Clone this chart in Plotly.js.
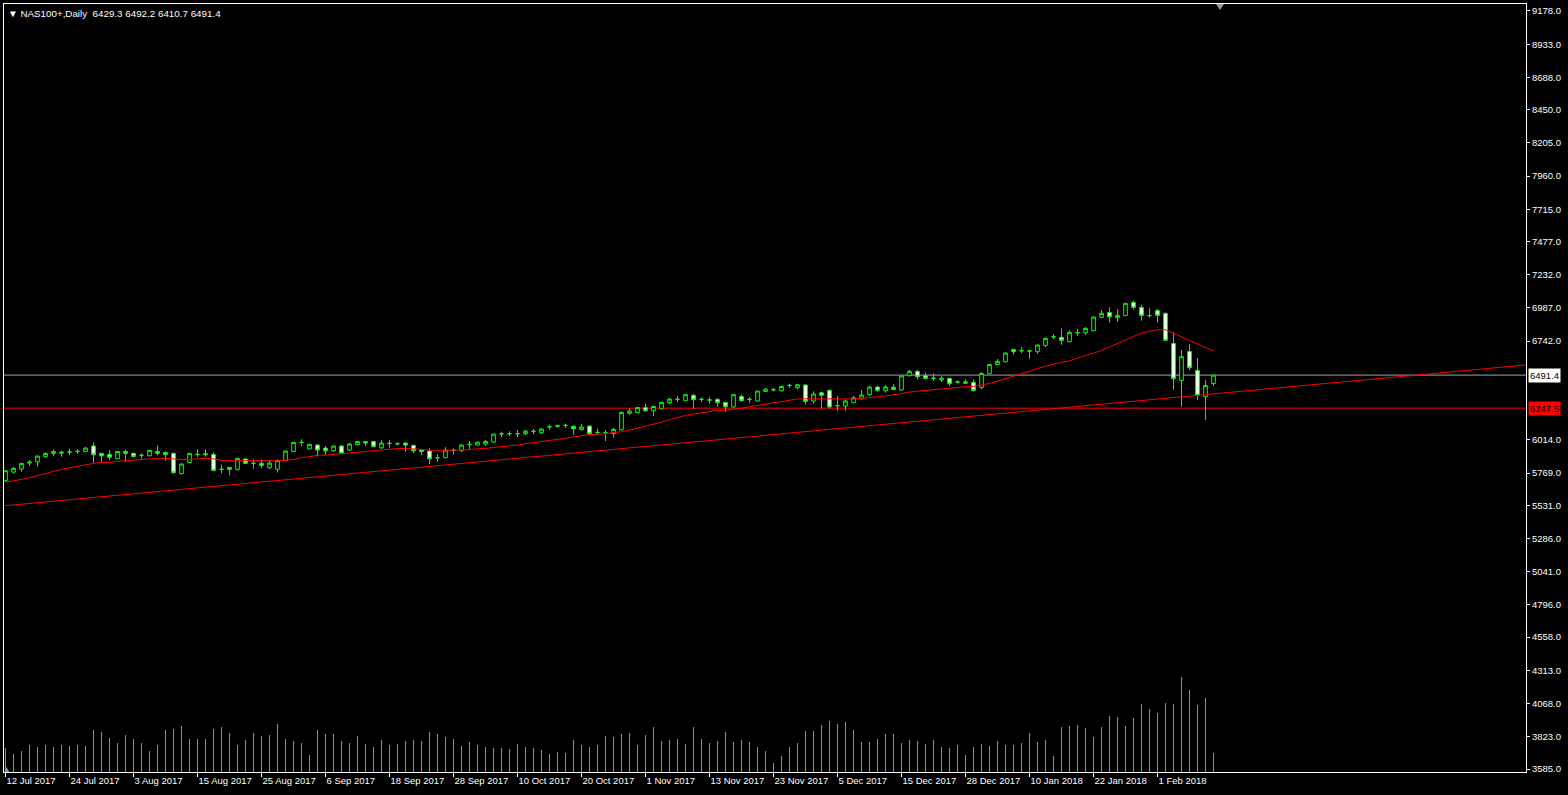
<!DOCTYPE html>
<html>
<head>
<meta charset="utf-8">
<script src="https://cdn.plot.ly/plotly-3.0.1.min.js"></script>
<style>
html,body{margin:0;padding:0;background:#000;}
#chart{width:1568px;height:795px;}
</style>
</head>
<body>
<div id="chart"></div>
<script>
// ---------- DATA ----------
const symbolName = "NAS100+,Daily";
const open  = [5712,5776,5798,5842,5852,5889,5914,5915,5922,5927,5928,5968,5914,5906,5874,5928,5914,5898,5896,5928,
5921,5914,5764,5847,5905,5904,5906,5795,5810,5796,5872,5838,5840,5808,5796,5862,5928,5994,5946,5975,
5953,5933,5968,5938,5978,6002,6002,5955,5986,5984,5990,5973,5938,5931,5880,5882,5935,5933,5978,5975,
5983,5997,6057,6058,6058,6059,6075,6066,6109,6113,6119,6113,6088,6115,6067,6066,6061,6088,6209,6214,
6251,6228,6243,6288,6311,6302,6342,6311,6307,6312,6290,6256,6334,6311,6300,6371,6382,6376,6414,6398,
6418,6300,6361,6379,6265,6263,6288,6317,6347,6403,6376,6402,6382,6487,6519,6487,6467,6456,6467,6440,
6430,6438,6401,6502,6570,6590,6681,6670,6668,6664,6711,6773,6770,6738,6803,6804,6819,6917,6954,6915,
6930,7028,6991,6929,6969,6947,6725,6452,6666,6526,6332,6429.3];
const high  = [5790,5815,5844,5864,5897,5921,5943,5933,5950,5945,5960,5995,5916,5938,5930,5943,5918,5914,5938,5973,
5928,5921,5842,5916,5943,5943,5921,5832,5813,5879,5876,5869,5869,5864,5869,5933,5997,6017,5985,5982,
5968,5970,5972,5992,6005,6005,6005,6012,6012,5997,5997,5978,5941,5951,5906,5960,5951,5983,6005,5999,
6012,6060,6074,6076,6086,6088,6093,6101,6125,6125,6133,6120,6133,6120,6096,6086,6101,6224,6246,6256,
6283,6263,6297,6322,6337,6349,6352,6327,6329,6322,6293,6349,6347,6329,6374,6396,6396,6415,6428,6428,
6425,6371,6366,6383,6337,6312,6337,6381,6411,6411,6418,6424,6488,6529,6529,6509,6504,6484,6470,6450,
6460,6460,6511,6573,6610,6658,6684,6698,6674,6718,6770,6792,6836,6821,6831,6846,6922,6971,6991,6979,
7024,7040,7008,6984,6979,6954,6807,6676,6721,6617,6455,6492.2];
const low   = [5705,5766,5778,5823,5815,5884,5894,5889,5901,5909,5926,5845,5852,5864,5872,5850,5884,5874,5894,5899,
5860,5764,5759,5845,5886,5889,5781,5766,5751,5788,5838,5800,5805,5798,5773,5860,5926,5970,5944,5891,
5901,5928,5910,5933,5975,5968,5960,5948,5955,5973,5926,5914,5901,5835,5852,5879,5906,5926,5946,5973,
5970,5995,6032,6042,6032,6049,6054,6056,6088,6103,6101,6049,6086,6054,6054,6005,6030,6083,6199,6211,
6224,6189,6238,6278,6292,6300,6243,6295,6280,6258,6221,6253,6297,6288,6297,6366,6371,6371,6396,6386,
6275,6280,6243,6243,6228,6228,6285,6312,6339,6371,6362,6381,6378,6482,6460,6460,6451,6440,6410,6428,
6425,6369,6386,6500,6566,6587,6644,6654,6612,6649,6696,6757,6715,6733,6782,6787,6816,6912,6878,6885,
6927,6976,6893,6915,6880,6743,6384,6258,6529,6307,6160,6410.7];
const close = [5786,5803,5840,5849,5894,5914,5928,5923,5924,5929,5953,5904,5896,5884,5928,5914,5891,5900,5936,5914,
5906,5771,5835,5914,5907,5912,5788,5797,5796,5877,5840,5841,5825,5842,5862,5931,5995,5996,5980,5938,
5933,5968,5914,5983,6002,5990,5963,5990,5988,5985,5975,5933,5928,5874,5882,5938,5937,5975,5980,5997,
6002,6056,6059,6060,6060,6078,6077,6093,6111,6120,6121,6096,6108,6059,6069,6067,6091,6216,6226,6252,
6228,6260,6290,6315,6313,6347,6310,6313,6308,6288,6258,6347,6302,6313,6374,6388,6384,6408,6416,6420,
6297,6352,6342,6256,6266,6300,6324,6344,6403,6379,6404,6386,6486,6519,6479,6467,6469,6468,6428,6442,
6442,6378,6504,6570,6593,6654,6664,6672,6670,6713,6762,6775,6747,6807,6805,6836,6920,6947,6922,6932,
7021,6991,6932,6931,6932,6748,6465,6627,6546,6342,6415,6491.4];
const movingAvg = [5700,5709,5722,5734,5751,5764,5781,5796,5808,5820,5832,5840,5847,5847,5855,5860,5862,5867,5872,5877,
5877,5872,5869,5869,5874,5877,5874,5862,5860,5860,5860,5855,5855,5857,5860,5862,5869,5882,5892,5899,
5901,5906,5914,5921,5926,5931,5936,5941,5946,5950,5950,5948,5943,5938,5936,5936,5938,5938,5941,5948,
5950,5958,5963,5970,5975,5985,5995,6002,6010,6017,6027,6037,6047,6053,6054,6059,6066,6074,6086,6100,
6118,6130,6145,6162,6179,6194,6204,6214,6224,6231,6233,6238,6246,6258,6268,6278,6288,6297,6307,6315,
6317,6317,6315,6312,6312,6315,6315,6320,6324,6332,6338,6345,6355,6367,6373,6381,6387,6392,6396,6401,
6406,6408,6418,6430,6447,6463,6484,6503,6518,6540,6557,6572,6585,6597,6617,6634,6653,6674,6700,6724,
6752,6778,6802,6814,6827,6826,6799,6772,6750,6723,6693,6669];
const volume = [72,54,63,81,75,81,75,81,78,81,78,126,120,102,87,111,99,87,63,81,
126,129,138,99,99,99,129,135,117,81,96,117,108,111,144,99,93,87,51,126,
114,114,93,87,108,84,75,96,81,84,93,96,93,120,114,105,99,78,90,81,
75,72,72,69,84,75,72,66,54,60,57,96,81,75,81,108,105,114,117,81,
111,135,93,96,99,84,135,99,87,93,120,90,96,90,75,63,27,48,75,87,
123,123,141,153,144,150,126,90,90,99,114,114,87,96,93,84,96,75,72,81,
51,75,84,78,93,81,81,87,117,90,96,48,135,138,141,132,105,135,168,165,
138,162,204,189,177,207,204,285,246,201,222,57];
const tickLabels = ["12 Jul 2017","24 Jul 2017","3 Aug 2017","15 Aug 2017","25 Aug 2017","6 Sep 2017",
"18 Sep 2017","28 Sep 2017","10 Oct 2017","20 Oct 2017","1 Nov 2017","13 Nov 2017","23 Nov 2017",
"5 Dec 2017","15 Dec 2017","28 Dec 2017","10 Jan 2018","22 Jan 2018","1 Feb 2018"];
const priceTicks = [9178,8933,8688,8450,8205,7960,7715,7477,7232,6987,6742,6014,5769,5531,5286,5041,4796,4558,4313,4068,3823,3585];
const holidays = ["25 Dec 2017","1 Jan 2018"];
const hLineLevel = 6247.5;
const trendBars = [0,190];
const trendPrices = [5528,6566];

// ---------- DATES (trading days) ----------
const MONTHS = ["Jan","Feb","Mar","Apr","May","Jun","Jul","Aug","Sep","Oct","Nov","Dec"];
const dates = [];
(function(){
  let d = new Date(Date.UTC(2017,6,12));
  while (dates.length < close.length) {
    const wd = d.getUTCDay();
    const s = d.getUTCDate()+" "+MONTHS[d.getUTCMonth()]+" "+d.getUTCFullYear();
    if (wd !== 0 && wd !== 6 && holidays.indexOf(s) < 0) dates.push(s);
    d = new Date(d.getTime()+86400000);
  }
})();
const idx = dates.map((_, i) => i);
const tickVals = tickLabels.map(l => dates.indexOf(l));

// volume drawn as thin vertical sticks
const volX = [], volY = [];
idx.forEach((i) => { volX.push(i, i, null); volY.push(0, volume[i], null); });

// ---------- PLOT ----------
const FONT = "Liberation Sans, Arial, sans-serif";
const last = close.length - 1;
const bid = close[last];

const traces = [
  {
    type: "scatter", mode: "lines", x: volX, y: volY, yaxis: "y2",
    line: {color: "#32d232", width: 1}, hoverinfo: "skip", showlegend: false, connectgaps: false
  },
  {
    type: "scatter", mode: "lines", x: trendBars, y: trendPrices,
    line: {color: "#ff0000", width: 1}, hoverinfo: "skip", showlegend: false
  },
  {
    type: "scatter", mode: "lines", x: idx, y: movingAvg,
    line: {color: "#ff0000", width: 1}, hoverinfo: "skip", showlegend: false
  },
  {
    type: "candlestick", x: idx, open: open, high: high, low: low, close: close,
    increasing: {line: {color: "#00ff00", width: 1}, fillcolor: "#000000"},
    decreasing: {line: {color: "#00ff00", width: 1}, fillcolor: "#ffffff"},
    whiskerwidth: 0, hoverinfo: "skip", showlegend: false
  }
];

const layout = {
  width: 1568, height: 795,
  paper_bgcolor: "#000000", plot_bgcolor: "#000000",
  margin: {l: 4, r: 42, t: 4, b: 23, pad: 0},
  font: {family: FONT, size: 9.5, color: "#ffffff"},
  showlegend: false,
  boxgap: 0.35,
  xaxis: {
    type: "linear", range: [-0.1875, 190.0625], fixedrange: true,
    showgrid: false, zeroline: false,
    showline: true, linecolor: "#ffffff", linewidth: 1, mirror: true,
    ticks: "outside", ticklen: 4, tickcolor: "#ffffff", tickwidth: 1,
    tickvals: tickVals, ticktext: tickLabels, ticklabelposition: "outside right",
    tickfont: {family: FONT, size: 9.5, color: "#ffffff"},
    rangeslider: {visible: false}
  },
  yaxis: {
    side: "right", range: [3562.9, 9229.6], fixedrange: true,
    showgrid: false, zeroline: false,
    showline: true, linecolor: "#ffffff", linewidth: 1, mirror: true,
    ticks: "outside", ticklen: 3, tickcolor: "#ffffff", tickwidth: 1,
    tickvals: priceTicks, ticktext: priceTicks.map(v => v.toFixed(1)),
    tickfont: {family: FONT, size: 9.5, color: "#ffffff"}
  },
  yaxis2: {overlaying: "y", range: [0, 2304], visible: false, fixedrange: true},
  shapes: [
    {type: "line", xref: "paper", x0: 0, x1: 1, yref: "y", y0: bid, y1: bid,
     line: {color: "#a0a4b0", width: 1}, layer: "below"},
    {type: "line", xref: "paper", x0: 0, x1: 1, yref: "y", y0: hLineLevel, y1: hLineLevel,
     line: {color: "#ff0000", width: 1}, layer: "below"},
    {type: "path", xref: "paper", yref: "paper",
     path: "M 0.7963 1 L 0.8016 1 L 0.799 0.9922 Z",
     fillcolor: "#8c9aa8", line: {width: 0}},
    {type: "path", xref: "paper", yref: "paper",
     path: "M 0.0007 0 L 0.0007 0.009 L 0.0035 0 Z",
     fillcolor: "#8c9aa8", line: {width: 0}}
  ],
  annotations: [
    {xref: "paper", yref: "paper", x: 0.0, y: 0.997, xanchor: "left", yanchor: "top", xshift: 2,
     showarrow: false, align: "left",
     text: "\u25BC\u00a0" + symbolName + "\u00a0\u00a0" + [open[last], high[last], low[last], close[last]].map(v => v.toFixed(1)).join(" "),
     font: {family: FONT, size: 9.8, color: "#ffffff"}},
    {xref: "paper", yref: "y", x: 1, y: bid, xanchor: "left", yanchor: "middle", xshift: 2,
     showarrow: false, text: bid.toFixed(1), bgcolor: "#ffffff", borderpad: 1,
     font: {family: FONT, size: 9.5, color: "#000000"}},
    {xref: "paper", yref: "y", x: 1, y: hLineLevel, xanchor: "left", yanchor: "middle", xshift: 2,
     showarrow: false, text: hLineLevel.toFixed(1), bgcolor: "#ff0000", borderpad: 1,
     font: {family: FONT, size: 9.5, color: "#000000"}}
  ]
};

Plotly.newPlot("chart", traces, layout, {displayModeBar: false, staticPlot: true});
</script>
</body>
</html>
